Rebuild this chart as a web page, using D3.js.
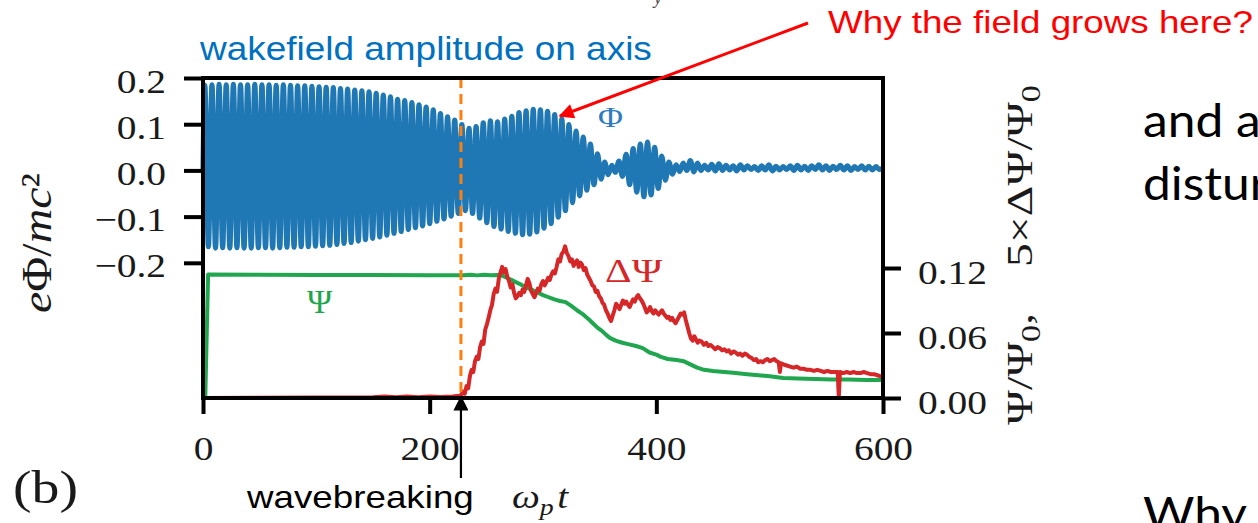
<!DOCTYPE html>
<html>
<head>
<meta charset="utf-8">
<script src="https://cdn.jsdelivr.net/npm/d3@7"></script>
<style>
  body { margin: 0; background: #fff; }
  svg { display: block; }
</style>
</head>
<body>
<svg id="chart" width="1258" height="523"></svg>
<script>
// ---- data -------------------------------------------------------------
// Phi (e*Phi/mc^2): one crest and one trough value per plasma period
const phiPeriod = 6.3;
const phiFirstCrest = 1.6;
const phiStart = 0;
const phiEnd = 0.005;
const phiCrests = [
  0.184, 0.185, 0.186, 0.185, 0.186, 0.185, 0.185, 0.186, 0.185, 0.185,
  0.184, 0.185, 0.184, 0.183, 0.183, 0.182, 0.181, 0.180, 0.179, 0.177,
  0.176, 0.174, 0.172, 0.170, 0.167, 0.163, 0.159, 0.154, 0.151, 0.147,
  0.142, 0.137, 0.131, 0.123, 0.116, 0.109, 0.099, 0.091, 0.095, 0.103,
  0.107, 0.105, 0.111, 0.117, 0.125, 0.129, 0.132, 0.131, 0.128, 0.121,
  0.111, 0.099, 0.085, 0.072, 0.057, 0.036, 0.018, 0.011, 0.020, 0.035,
  0.047, 0.057, 0.061, 0.050, 0.031, 0.018, 0.012, 0.016, 0.021, 0.016,
  0.011, 0.013, 0.014, 0.011, 0.010, 0.012, 0.010, 0.008, 0.010, 0.012,
  0.009, 0.008, 0.010, 0.011, 0.009, 0.010, 0.012, 0.010, 0.009, 0.011,
  0.010, 0.008, 0.010, 0.009, 0.008
];
const phiTroughs = [
  -0.165, -0.168, -0.167, -0.168, -0.167, -0.168, -0.168, -0.167, -0.167, -0.168,
  -0.167, -0.166, -0.166, -0.165, -0.165, -0.164, -0.163, -0.162, -0.160, -0.158,
  -0.156, -0.153, -0.150, -0.147, -0.144, -0.140, -0.136, -0.132, -0.128, -0.124,
  -0.120, -0.115, -0.110, -0.105, -0.099, -0.093, -0.087, -0.093, -0.103, -0.113,
  -0.121, -0.127, -0.132, -0.136, -0.139, -0.138, -0.133, -0.125, -0.115, -0.101,
  -0.087, -0.070, -0.055, -0.043, -0.031, -0.019, -0.009, -0.004, -0.013, -0.031,
  -0.047, -0.057, -0.053, -0.039, -0.021, -0.008, -0.002, 0.000, -0.003, 0.000,
  0.001, -0.001, 0.000, 0.001, -0.001, 0.001, 0.002, 0.000, 0.001, -0.001,
  0.001, 0.002, 0.000, 0.001, 0.000, 0.002, 0.001, 0.000, 0.002, 0.001,
  0.000, 0.002, 0.001, 0.001, 0.002
];

// Psi / Psi0  [omega_p t, value]
const psiSeries = [
  [0, 0], [2, 0], [4.5, 0.114], [50, 0.1138], [100, 0.1136], [150, 0.1136],
  [200, 0.1134], [230, 0.1134], [236, 0.1138], [242, 0.1132], [248, 0.1138],
  [254, 0.1134], [260, 0.1136], [264, 0.113], [268, 0.111], [272, 0.109],
  [276, 0.107], [280, 0.105], [285, 0.102], [291, 0.0995], [296, 0.097],
  [300, 0.095], [305, 0.093], [310, 0.091], [315, 0.0895], [320, 0.0885],
  [325, 0.085], [330, 0.081], [335, 0.0775], [340, 0.073], [344, 0.069],
  [348, 0.065], [352, 0.062], [356, 0.058], [359, 0.0555], [364, 0.053],
  [370, 0.051], [376, 0.0495], [382, 0.048], [388, 0.046], [394, 0.042],
  [400, 0.040], [404, 0.038], [410, 0.036], [418, 0.035], [424, 0.034],
  [430, 0.031], [436, 0.028], [442, 0.026], [450, 0.025], [460, 0.024],
  [470, 0.023], [480, 0.022], [490, 0.021], [500, 0.020], [512, 0.0185],
  [525, 0.018], [540, 0.0175], [555, 0.017], [570, 0.017], [585, 0.0167],
  [600, 0.0166]
];

// 5 x DeltaPsi / Psi0  [omega_p t, value]
const dPsiSeries = [
  [0, 0], [150, 0.0008], [160, 0.0015], [170, 0.0008], [180, 0.0015], [190, 0.0008],
  [200, 0.0015], [210, 0.001], [220, 0.0015], [226, 0.002],
  [228, 0.003], [229.5, 0.006], [231, 0.004], [232.5, 0.011], [234, 0.009],
  [235.5, 0.020], [237, 0.026], [238.5, 0.024], [240, 0.034], [241.5, 0.038],
  [243, 0.036], [244.5, 0.047], [246, 0.052], [247.5, 0.050], [249, 0.063],
  [250.5, 0.068], [252, 0.074], [253.5, 0.081], [255, 0.086], [256.5, 0.096],
  [258, 0.101], [259.5, 0.098], [261, 0.110], [262.5, 0.116], [264, 0.121],
  [265.5, 0.116], [267, 0.119], [268.5, 0.112], [270, 0.108], [271.5, 0.102],
  [273, 0.105], [274.5, 0.097], [276, 0.092], [277.5, 0.094], [279, 0.097],
  [280.5, 0.095], [282, 0.100], [283.5, 0.098], [285, 0.104], [286.5, 0.110],
  [288, 0.106], [289.5, 0.099], [291, 0.096], [292.5, 0.093], [294, 0.097],
  [295.5, 0.101], [297, 0.099], [298.5, 0.105], [300, 0.108], [301.5, 0.104],
  [303, 0.107], [304.5, 0.111], [306, 0.109], [307.5, 0.114], [309, 0.117],
  [310.5, 0.115], [312, 0.121], [313.5, 0.128], [315, 0.126], [316.5, 0.133],
  [318, 0.135], [319.5, 0.140], [321, 0.134], [322.5, 0.131], [324, 0.126],
  [325.5, 0.128], [327, 0.122], [328.5, 0.125], [330, 0.127], [331.5, 0.121],
  [333, 0.125], [334.5, 0.123], [336, 0.118], [337.5, 0.120], [339, 0.114],
  [340.5, 0.111], [342, 0.108], [343.5, 0.104], [345, 0.103], [346.5, 0.098],
  [348, 0.099], [349.5, 0.094], [351, 0.092], [352.5, 0.088], [354, 0.086],
  [355.5, 0.081], [357, 0.078], [358.5, 0.074], [360, 0.071], [361.5, 0.076],
  [363, 0.081], [364.5, 0.087], [366, 0.085], [367.5, 0.082], [369, 0.086],
  [370.5, 0.090], [372, 0.087], [373.5, 0.089], [375, 0.086], [376.5, 0.084],
  [378, 0.088], [379.5, 0.091], [381, 0.089], [382.5, 0.093], [384, 0.095],
  [385.5, 0.092], [387, 0.090], [388.5, 0.087], [390, 0.083], [391.5, 0.079],
  [393, 0.081], [394.5, 0.084], [396, 0.080], [397.5, 0.078], [399, 0.081],
  [400.5, 0.079], [402, 0.077], [403.5, 0.079], [405, 0.081], [406.5, 0.078],
  [408, 0.076], [409.5, 0.074], [411, 0.075], [412.5, 0.072], [414, 0.074],
  [415.5, 0.071], [417, 0.069], [418.5, 0.072], [420, 0.075], [421.5, 0.078],
  [423, 0.077], [424.5, 0.079], [426, 0.072], [427.5, 0.066], [429, 0.060],
  [430.5, 0.055], [432, 0.053], [433.5, 0.057], [435, 0.054], [436.5, 0.051],
  [438, 0.053], [440, 0.052], [442, 0.049], [444, 0.051], [446, 0.048],
  [448, 0.049], [450, 0.047], [452, 0.045], [454, 0.047], [456, 0.046],
  [458, 0.044], [460, 0.045], [462, 0.043], [464, 0.044], [466, 0.041],
  [468, 0.043], [470, 0.042], [472, 0.040], [474, 0.041], [476, 0.039],
  [478, 0.041], [480, 0.040], [482, 0.038], [484, 0.037], [486, 0.035],
  [488, 0.036], [490, 0.033], [492, 0.034], [494, 0.033], [496, 0.035],
  [498, 0.036], [500, 0.034], [502, 0.035], [504, 0.036], [506, 0.034],
  [508, 0.033], [509, 0.024], [510, 0.032], [512, 0.031], [515, 0.030],
  [518, 0.029], [521, 0.028], [524, 0.029], [527, 0.027], [530, 0.027],
  [533, 0.026], [536, 0.026], [539, 0.025], [542, 0.026], [545, 0.025],
  [548, 0.024], [551, 0.025], [554, 0.024], [557, 0.024], [560, 0.024],
  [561, 0.001], [562, 0.024], [565, 0.023], [568, 0.024], [571, 0.023],
  [574, 0.024], [577, 0.023], [580, 0.023], [583, 0.024], [586, 0.023],
  [589, 0.022], [592, 0.022], [595, 0.021], [598, 0.020], [600, 0.019]
];

const wavebreakT = 227.6;
const xTicks = [0, 200, 400, 600];
const phiTicks = [-0.2, -0.1, 0.0, 0.1, 0.2];
const psiTicks = [0.00, 0.06, 0.12];

// ---- layout -----------------------------------------------------------
const svg = d3.select("#chart");
const L = 203, R = 883, T = 78, B = 398;
const SERIF = "'Liberation Serif', 'DejaVu Serif', serif";
const SANS = "'Liberation Sans', Arial, sans-serif";

const x = d3.scaleLinear().domain([0, 600]).range([L, R]);
const yPhi = d3.scaleLinear().domain([-0.4926, 0.2]).range([B, T]);
const yPsi = d3.scaleLinear().domain([0, 0.2954]).range([B, T]);

// Phi trace: alternate crest / trough at half-period spacing
const phiPoints = [[0, phiStart]];
phiCrests.forEach((c, k) => {
  const tc = phiFirstCrest + k * phiPeriod;
  phiPoints.push([tc, c]);
  phiPoints.push([tc + phiPeriod / 2, phiTroughs[k]]);
});
phiPoints.push([600, phiEnd]);

const lineOn = (ys) => d3.line().x(d => x(d[0])).y(d => ys(d[1]));

svg.append("path")
  .datum(phiPoints)
  .attr("fill", "none")
  .attr("stroke", "#1f77b4")
  .attr("stroke-width", 5.2)
  .attr("stroke-linejoin", "round")
  .attr("d", lineOn(yPhi).curve(d3.curveMonotoneX));

svg.append("path")
  .datum(psiSeries)
  .attr("fill", "none")
  .attr("stroke", "#1fa64e")
  .attr("stroke-width", 4)
  .attr("stroke-linejoin", "round")
  .attr("d", lineOn(yPsi));

svg.append("path")
  .datum(dPsiSeries)
  .attr("fill", "none")
  .attr("stroke", "#d62728")
  .attr("stroke-width", 4)
  .attr("stroke-linejoin", "round")
  .attr("d", lineOn(yPsi));

// wavebreaking moment
svg.append("line")
  .attr("x1", x(wavebreakT)).attr("x2", x(wavebreakT))
  .attr("y1", T).attr("y2", B)
  .attr("stroke", "#ff7f0e")
  .attr("stroke-width", 3)
  .attr("stroke-dasharray", "10,6");

// ---- frame and axes ---------------------------------------------------
svg.append("rect")
  .attr("x", L).attr("y", T)
  .attr("width", R - L).attr("height", B - T)
  .attr("fill", "none")
  .attr("stroke", "#000")
  .attr("stroke-width", 4);

function styleAxis(g, dx, dy, anchor) {
  g.select(".domain").remove();
  g.selectAll(".tick line").attr("stroke", "#000").attr("stroke-width", 4);
  g.selectAll(".tick text")
    .attr("x", null).attr("y", null).attr("dy", null)
    .attr("text-anchor", anchor)
    .attr("font-family", SERIF)
    .attr("font-size", 34)
    .attr("fill", "#1a1a1a")
    .attr("transform", `translate(${dx},${dy}) scale(1.16,1)`);
}

svg.append("g")
  .attr("transform", `translate(${L},0)`)
  .call(d3.axisLeft(yPhi).tickValues(phiTicks).tickSize(19).tickFormat(d3.format(".1f")))
  .call(g => styleAxis(g, -37, 14, "end"));

svg.append("g")
  .attr("transform", `translate(${R},0)`)
  .call(d3.axisRight(yPsi).tickValues(psiTicks).tickSize(18).tickFormat(d3.format(".2f")))
  .call(g => styleAxis(g, 35, 15, "start"));

svg.append("g")
  .attr("transform", `translate(0,${B})`)
  .call(d3.axisBottom(x).tickValues(xTicks).tickSize(16).tickFormat(d3.format("d")))
  .call(g => styleAxis(g, 0, 62, "middle"));

// ---- text helpers -----------------------------------------------------
function label(o) {
  const g = svg.append("g");
  const t = g.append("text")
    .attr("font-family", o.font)
    .attr("font-size", o.size)
    .attr("fill", o.color || "#111")
    .attr("text-anchor", o.anchor || "start");
  if (o.text !== undefined) t.text(o.text);
  if (o.build) o.build(t);
  let sx = o.sx || 1;
  if (o.width) sx = o.width / t.node().getBBox().width;
  g.attr("transform", `translate(${o.x},${o.y}) rotate(${o.rot || 0}) scale(${sx},${o.sy || 1})`);
  return t;
}
const span = (t, s, style) => {
  const ts = t.append("tspan").text(s);
  if (style) Object.entries(style).forEach(([k, v]) => ts.attr(k, v));
  return ts;
};

// axis titles
label({ x: 51, y: 313, rot: -90, width: 140, sy: 1.2, font: SERIF, size: 35, color: "#1a1a1a",
  build: t => {
    span(t, "e", { "font-style": "italic" });
    span(t, "Φ/");
    span(t, "mc", { "font-style": "italic" });
    span(t, "²");
  } });

label({ x: 1032, y: 425, rot: -90, width: 112, sy: 1.15, font: SERIF, size: 32, color: "#1a1a1a",
  build: t => {
    span(t, "Ψ/Ψ");
    span(t, "0", { dy: 7, "font-size": 23 });
    span(t, ",", { dy: -7 });
  } });

label({ x: 1032, y: 267, rot: -90, width: 182, sy: 1.15, font: SERIF, size: 32, color: "#1a1a1a",
  build: t => {
    span(t, "5×ΔΨ/Ψ");
    span(t, "0", { dy: 7, "font-size": 23 });
  } });

label({ x: 512, y: 508, width: 58, font: SERIF, size: 34, color: "#1a1a1a",
  build: t => {
    span(t, "ω", { "font-style": "italic" });
    span(t, "p", { "font-style": "italic", dy: 7, "font-size": 24 });
    span(t, "t", { "font-style": "italic", dy: -7, dx: 3 });
  } });

label({ x: 13, y: 503, width: 65, font: SERIF, size: 46, color: "#1a1a1a", text: "(b)" });

// series labels
label({ x: 598, y: 127, width: 25, font: SERIF, size: 29, color: "#2f7bbf", text: "Φ" });
label({ x: 605, y: 282, width: 58, font: SERIF, size: 33, color: "#d62728", text: "ΔΨ" });
label({ x: 307, y: 313, width: 26, font: SERIF, size: 33, color: "#1fa64e", text: "Ψ" });

// annotations
label({ x: 200, y: 60, width: 453, font: SANS, size: 34, color: "#0070c0", text: "wakefield amplitude on axis" });
label({ x: 828, y: 33, width: 425, font: SANS, size: 32, color: "#ff0000", text: "Why the field grows here?" });
label({ x: 247, y: 508, width: 228, font: SANS, size: 32, color: "#000", text: "wavebreaking" });
label({ x: 654, y: 4, font: SERIF, size: 18, color: "#444", text: "y", build: t => t.attr("font-style", "italic") });

const defs = svg.append("defs");
function arrowHead(id, color, len, wid) {
  defs.append("marker")
    .attr("id", id)
    .attr("viewBox", "0 0 10 10")
    .attr("refX", 9).attr("refY", 5)
    .attr("markerUnits", "userSpaceOnUse")
    .attr("markerWidth", len).attr("markerHeight", wid)
    .attr("orient", "auto")
    .append("path")
    .attr("d", "M0,0 L10,5 L0,10 z")
    .attr("fill", color);
}
arrowHead("headRed", "#ff0000", 20, 15);
arrowHead("headBlack", "#000", 22, 15);

svg.append("line")
  .attr("x1", 808).attr("y1", 23).attr("x2", 560).attr("y2", 116)
  .attr("stroke", "#ff0000").attr("stroke-width", 3)
  .attr("marker-end", "url(#headRed)");

svg.append("line")
  .attr("x1", x(wavebreakT)).attr("y1", 478).attr("x2", x(wavebreakT)).attr("y2", 397)
  .attr("stroke", "#000").attr("stroke-width", 2.2)
  .attr("marker-end", "url(#headBlack)");

// slide body text at the right
const BODY = "Lato, 'Open Sans', sans-serif";
label({ x: 1143, y: 137, sx: 1.08, font: BODY, size: 46, color: "#000", text: "and a" });
label({ x: 1143, y: 200, sx: 1.08, font: BODY, size: 46, color: "#000", text: "distur" });
label({ x: 1143, y: 530, sx: 1.08, font: BODY, size: 46, color: "#000", text: "Why" });
</script>
</body>
</html>
